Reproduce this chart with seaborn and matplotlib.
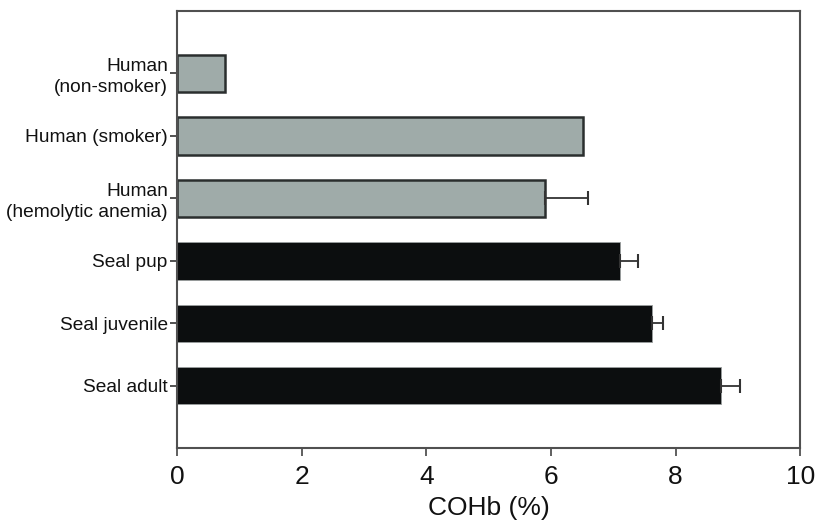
import numpy as np
import pandas as pd
import matplotlib
matplotlib.use('Agg')
import matplotlib.pyplot as plt
import seaborn as sns

sns.set_style('white')
plt.rcParams['font.family'] = ['Liberation Sans', 'DejaVu Sans']
plt.rcParams['text.color'] = '#111111'
plt.rcParams['xtick.labelcolor'] = '#111111'
plt.rcParams['ytick.labelcolor'] = '#111111'
plt.rcParams['axes.labelcolor'] = '#111111'

categories = ['Human\n(non-smoker)', 'Human (smoker)', 'Human\n(hemolytic anemia)',
              'Seal pup', 'Seal juvenile', 'Seal adult']
cohb = [0.78, 6.52, 5.90, 7.10, 7.62, 8.73]
cohb_err = [0.0, 0.0, 0.70, 0.30, 0.18, 0.30]
bar_colors = ['#9dadaa', '#9dadaa', '#9dadaa', '#0b0e0f', '#0b0e0f', '#0b0e0f']
edge_colors = ['#2a2e2e', '#2a2e2e', '#2a2e2e', '#9a9e9e', '#9a9e9e', '#9a9e9e']
x_ticks = [0, 2, 4, 6, 8, 10]

df = pd.DataFrame({'group': categories, 'cohb': cohb})

fig = plt.figure(figsize=(8.15, 5.26), dpi=100)
ax = fig.add_axes([0.217, 0.148, 0.765, 0.831])

sns.barplot(data=df, x='cohb', y='group', hue='group', palette=bar_colors,
            orient='h', width=0.6, linewidth=1.5, legend=False, ax=ax)
for patch, ec, lw in zip(ax.patches, edge_colors, [1.8, 1.8, 1.8, 0.6, 0.6, 0.6]):
    patch.set_edgecolor(ec)
    patch.set_linewidth(lw)

# only the upper side of the error is drawn
ypos = np.arange(len(categories))
has_err = np.array(cohb_err) > 0
ax.errorbar(np.array(cohb)[has_err], ypos[has_err],
            xerr=[np.zeros(has_err.sum()), np.array(cohb_err)[has_err]],
            fmt='none', ecolor='#333333', elinewidth=1.3, capsize=5, capthick=1.5)

ax.set_xlim(0, 10)
ax.set_ylim(6, -1)
ax.set_xticks(x_ticks)
ax.set_xticklabels([str(t) for t in x_ticks], fontsize=19)
ax.tick_params(axis='y', left=True, labelsize=13.8, length=5, width=1.2,
               color='#333333', pad=1.5, direction='out')
ax.tick_params(axis='x', bottom=True, length=6, width=1.2, color='#444444',
               pad=6, direction='out')
ax.set_xlabel('COHb (%)', fontsize=19, labelpad=5)
ax.set_ylabel('')
for lab in ax.get_yticklabels():
    lab.set_linespacing(1.25)

for side in ['left', 'right', 'top', 'bottom']:
    ax.spines[side].set_visible(True)
    ax.spines[side].set_color('#505050')
    ax.spines[side].set_linewidth(1.5)

fig.savefig('out.png', dpi=100)
